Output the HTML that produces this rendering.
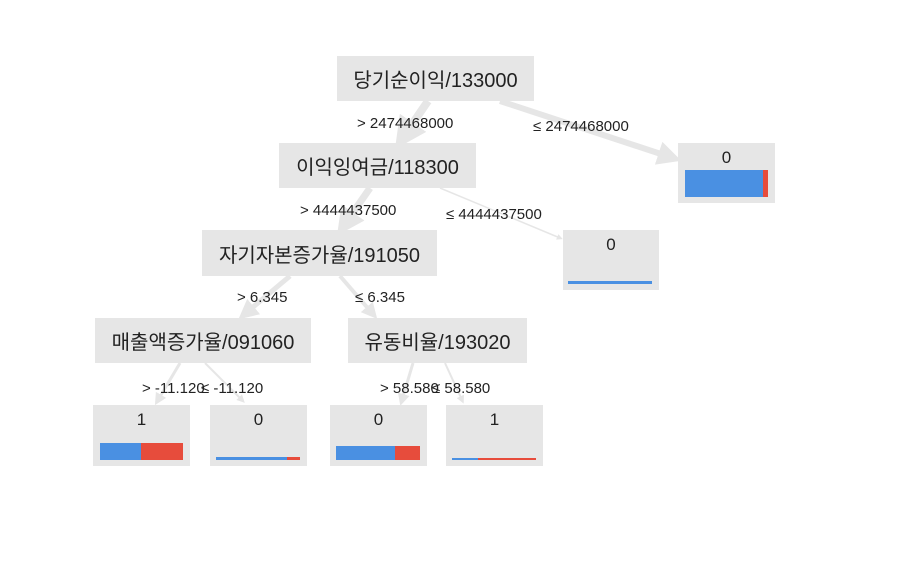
<!DOCTYPE html>
<html><head><meta charset="utf-8"><style>
body{margin:0;width:906px;height:572px;background:#fff;position:relative;overflow:hidden;font-family:"Liberation Sans","Noto Sans CJK KR",sans-serif;color:#222}
.n{position:absolute;background:#e6e6e6;display:flex;align-items:center;justify-content:center;font-size:20px}
.l{position:absolute;background:#e6e6e6}
.l .t{position:absolute;top:5px;left:0;right:0;text-align:center;font-size:17px}
.b{position:absolute;background:#4a90e2}
.r{position:absolute;background:#e74c3c}
.lab{position:absolute;font-size:15px;white-space:nowrap;background:transparent}
svg{position:absolute;left:0;top:0}
</style></head><body>
<svg width="906" height="572">
<defs><marker id="a" markerWidth="4" markerHeight="4" refX="2" refY="2" orient="auto" markerUnits="strokeWidth"><path d="M0,0L4,2L0,4z" fill="#e6e6e6"/></marker></defs>
<g stroke="#e6e6e6" fill="none">
<line x1="428" y1="101" x2="404" y2="136" stroke-width="8" marker-end="url(#a)"/>
<line x1="500" y1="101" x2="670" y2="157" stroke-width="6" marker-end="url(#a)"/>
<line x1="370" y1="188" x2="345" y2="224" stroke-width="7" marker-end="url(#a)"/>
<line x1="440" y1="188" x2="560" y2="238" stroke-width="1.5" marker-end="url(#a)"/>
<line x1="290" y1="276" x2="246" y2="313" stroke-width="5" marker-end="url(#a)"/>
<line x1="340" y1="276" x2="372" y2="313" stroke-width="4" marker-end="url(#a)"/>
<line x1="180" y1="363" x2="158" y2="400" stroke-width="3" marker-end="url(#a)"/>
<line x1="205" y1="363" x2="242" y2="400" stroke-width="2" marker-end="url(#a)"/>
<line x1="413" y1="363" x2="402" y2="400" stroke-width="3" marker-end="url(#a)"/>
<line x1="445" y1="363" x2="462" y2="400" stroke-width="2" marker-end="url(#a)"/>
</g></svg>
<div class="n" style="left:337px;top:56px;width:197px;height:45px">당기순이익/133000</div>
<div class="n" style="left:279px;top:143px;width:197px;height:45px">이익잉여금/118300</div>
<div class="n" style="left:202px;top:230px;width:235px;height:46px">자기자본증가율/191050</div>
<div class="n" style="left:95px;top:318px;width:216px;height:45px">매출액증가율/091060</div>
<div class="n" style="left:348px;top:318px;width:179px;height:45px">유동비율/193020</div>
<div class="l" style="left:678px;top:143px;width:97px;height:60px"><div class="t">0</div><div class="b" style="left:7px;top:27px;width:78px;height:27px"></div><div class="r" style="left:85px;top:27px;width:5px;height:27px"></div></div>
<div class="l" style="left:563px;top:230px;width:96px;height:60px"><div class="t">0</div><div class="b" style="left:5px;top:51px;width:84px;height:3px"></div></div>
<div class="l" style="left:93px;top:405px;width:97px;height:61px"><div class="t">1</div><div class="b" style="left:7px;top:38px;width:41px;height:17px"></div><div class="r" style="left:48px;top:38px;width:42px;height:17px"></div></div>
<div class="l" style="left:210px;top:405px;width:97px;height:61px"><div class="t">0</div><div class="b" style="left:6px;top:52px;width:71px;height:3px"></div><div class="r" style="left:77px;top:52px;width:13px;height:3px"></div></div>
<div class="l" style="left:330px;top:405px;width:97px;height:61px"><div class="t">0</div><div class="b" style="left:6px;top:41px;width:59px;height:14px"></div><div class="r" style="left:65px;top:41px;width:25px;height:14px"></div></div>
<div class="l" style="left:446px;top:405px;width:97px;height:61px"><div class="t">1</div><div class="b" style="left:6px;top:53px;width:26px;height:2px"></div><div class="r" style="left:32px;top:53px;width:58px;height:2px"></div></div>
<div class="lab" style="left:357px;top:115px">&gt; 2474468000</div>
<div class="lab" style="left:533px;top:118px">≤ 2474468000</div>
<div class="lab" style="left:300px;top:202px">&gt; 4444437500</div>
<div class="lab" style="left:446px;top:206px">≤ 4444437500</div>
<div class="lab" style="left:237px;top:289px">&gt; 6.345</div>
<div class="lab" style="left:355px;top:289px">≤ 6.345</div>
<div class="lab" style="left:142px;top:380px">&gt; -11.120</div>
<div class="lab" style="left:201px;top:380px">≤ -11.120</div>
<div class="lab" style="left:380px;top:380px">&gt; 58.580</div>
<div class="lab" style="left:432px;top:380px">≤ 58.580</div>
</body></html>
